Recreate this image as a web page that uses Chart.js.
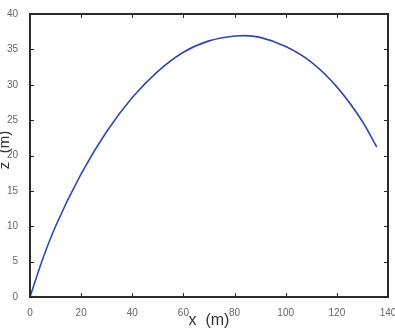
<!DOCTYPE html>
<html>
<head>
<meta charset="utf-8">
<script src="https://cdn.jsdelivr.net/npm/chart.js@4"></script>
<style>
  html, body { margin: 0; padding: 0; background: #fff; }
  #wrap { width: 395px; height: 330px; position: relative; }
</style>
</head>
<body>
<div id="wrap"><canvas id="chart"></canvas></div>
<script>
// trajectory: horizontal distance x (m), height z (m)
const xValues = [0, 5, 10, 20, 30, 40, 50, 60, 70, 80, 84, 90, 100, 110, 120, 130, 135.6];
const zValues = [0, 5.4, 10.0, 17.4, 23.4, 28.2, 31.9, 34.6, 36.2, 36.9, 36.95, 36.7, 35.4, 33.2, 29.7, 24.8, 21.2];
const xTicks = [0, 20, 40, 60, 80, 100, 120, 140];
const zTicks = [0, 5, 10, 15, 20, 25, 30, 35, 40];

const points = xValues.map((x, i) => ({ x, y: zValues[i] }));
const FRAME = "#2a2a2a";
const LABEL = "#666";

// matlab-like box with inward ticks on all four sides
const boxPlugin = {
  id: "box",
  afterDraw(chart) {
    const { ctx, chartArea: a, scales } = chart;
    ctx.save();
    ctx.strokeStyle = FRAME;
    ctx.lineWidth = 2;
    ctx.strokeRect(a.left, a.top, a.right - a.left, a.bottom - a.top);
    ctx.lineWidth = 1;
    const len = 4;
    ctx.beginPath();
    for (const v of xTicks) {
      const px = Math.round(scales.x.getPixelForValue(v)) + 0.5;
      ctx.moveTo(px, a.bottom); ctx.lineTo(px, a.bottom - len);
      ctx.moveTo(px, a.top); ctx.lineTo(px, a.top + len);
    }
    for (const v of zTicks) {
      const py = Math.round(scales.y.getPixelForValue(v)) + 0.5;
      ctx.moveTo(a.left, py); ctx.lineTo(a.left + len, py);
      ctx.moveTo(a.right, py); ctx.lineTo(a.right - len, py);
    }
    ctx.stroke();
    // y axis title, rotated and hugging the left edge
    ctx.fillStyle = "#333";
    ctx.font = "15px 'Liberation Sans', Arial, sans-serif";
    ctx.textAlign = "center";
    ctx.textBaseline = "middle";
    ctx.translate(5, 150);
    ctx.rotate(-Math.PI / 2);
    ctx.fillText("z  (m)", 0, 0);
    ctx.restore();
  },
};

const tickFont = { family: "'Liberation Sans', Arial, sans-serif", size: 10 };

new Chart(document.getElementById("chart").getContext("2d"), {
  type: "scatter",
  data: {
    datasets: [{
      data: points,
      showLine: true,
      borderColor: "#3347b4",
      borderWidth: 1.6,
      pointRadius: 0,
      cubicInterpolationMode: "monotone",
      fill: false,
    }],
  },
  options: {
    responsive: true,
    maintainAspectRatio: false,
    animation: false,
    layout: { padding: { top: 14, right: 7, left: 0, bottom: 0 } },
    plugins: { legend: { display: false }, tooltip: { enabled: false } },
    scales: {
      x: {
        type: "linear",
        min: 0,
        max: 140,
        afterBuildTicks: (s) => { s.ticks = xTicks.map((v) => ({ value: v })); },
        ticks: { color: LABEL, font: tickFont, padding: 2, maxRotation: 0 },
        grid: { display: false },
        border: { display: false },
        title: {
          display: true,
          text: "x  (m)",
          color: "#333",
          font: { family: "'Liberation Sans', Arial, sans-serif", size: 16 },
          padding: { top: -4, bottom: 0 },
        },
        afterFit: (s) => { s.height = 33; s.paddingLeft = 0; s.paddingRight = 0; },
      },
      y: {
        type: "linear",
        min: 0,
        max: 40,
        afterBuildTicks: (s) => { s.ticks = zTicks.map((v) => ({ value: v })); },
        ticks: { color: LABEL, font: tickFont, padding: 4 },
        grid: { display: false },
        border: { display: false },
        afterFit: (s) => { s.width = 30; },
      },
    },
  },
  plugins: [boxPlugin],
});
</script>
</body>
</html>
